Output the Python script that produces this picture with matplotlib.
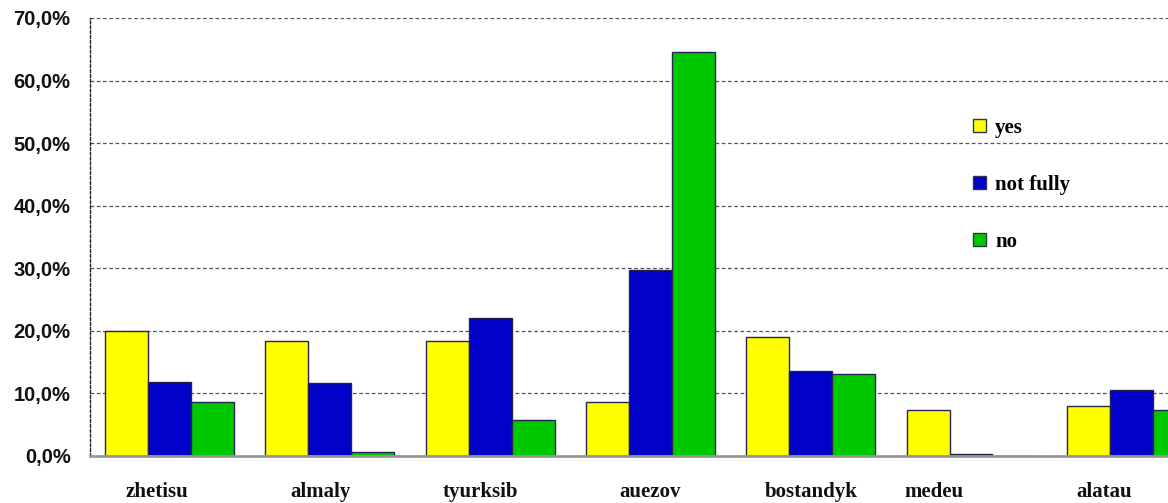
from matplotlib import pyplot as plt
from matplotlib.ticker import FuncFormatter
import matplotlib.transforms as mtransforms
import numpy as np

# Districts and answer shares (%)

districts = ["zhetisu", "almaly", "tyurksib", "auezov", "bostandyk", "medeu", "alatau"]

yes = [20.0, 18.3, 18.3, 8.6, 19.0, 7.3, 8.0]
not_fully = [11.8, 11.6, 22.0, 29.7, 13.6, 0.3, 10.5]
no = [8.7, 0.7, 5.7, 64.5, 13.1, 0.0, 7.3]

series = [("yes", yes, "#FFFF00"), ("not fully", not_fully, "#0000C8"), ("no", no, "#00C800")]

# label nudges along x, in category units
label_shift = [-0.08, -0.06, -0.06, 0.0, 0.0, -0.23, -0.17]

fig = plt.figure(figsize=(11.68, 5.03), dpi=100)
ax = fig.add_axes([90 / 1168, 47 / 503, 1 - 90 / 1168, 438 / 503])

x = np.arange(len(districts))
width = 0.268

for i, (name, vals, color) in enumerate(series):
    ax.bar(x + (i - 1) * width, vals, width, color=color, edgecolor="#24244f",
           linewidth=1.0, label=name, zorder=3)

ax.set_xlim(-0.496, 6.229)
ax.set_ylim(0, 70)
ax.set_yticks(range(0, 71, 10))
ax.yaxis.set_major_formatter(FuncFormatter(lambda v, p: f"{v:.1f}%".replace(".", ",")))
ax.grid(axis="y", linestyle=(0, (3, 2)), color="#555555", linewidth=0.9, zorder=0)
ax.tick_params(axis="y", length=0, pad=14)
ax.tick_params(axis="x", length=0)
for lbl in ax.get_yticklabels():
    lbl.set_fontfamily("Liberation Sans")
    lbl.set_fontweight("bold")
    lbl.set_fontsize(14.5)
    lbl.set_color("#111111")

ax.set_xticks([])
trans = mtransforms.blended_transform_factory(ax.transData, ax.transAxes)
for i, name in enumerate(districts):
    ax.text(i + label_shift[i], -0.083, name, transform=trans, ha="center", va="center",
            fontfamily="Liberation Serif", fontweight="bold", fontsize=15, color="#111111")

# Spines: dotted left axis, grey baseline
ax.spines["top"].set_visible(False)
ax.spines["right"].set_visible(False)
ax.spines["left"].set_linestyle((0, (2, 1.5)))
ax.spines["left"].set_color("#222222")
ax.spines["left"].set_linewidth(1.0)
ax.spines["bottom"].set_color("#999999")
ax.spines["bottom"].set_linewidth(2.0)
ax.spines["bottom"].set_zorder(4)

leg = fig.legend(loc="upper left", bbox_to_anchor=(973 / 1168, 0.766), frameon=False,
                 prop={"family": "Liberation Serif", "weight": "bold", "size": 15},
                 handlelength=0.63, handleheight=0.63, handletextpad=0.43,
                 labelspacing=1.78, borderpad=0, borderaxespad=0)
for h in leg.legend_handles:
    h.set_edgecolor("#333355")

fig.savefig("out.png", dpi=100)
